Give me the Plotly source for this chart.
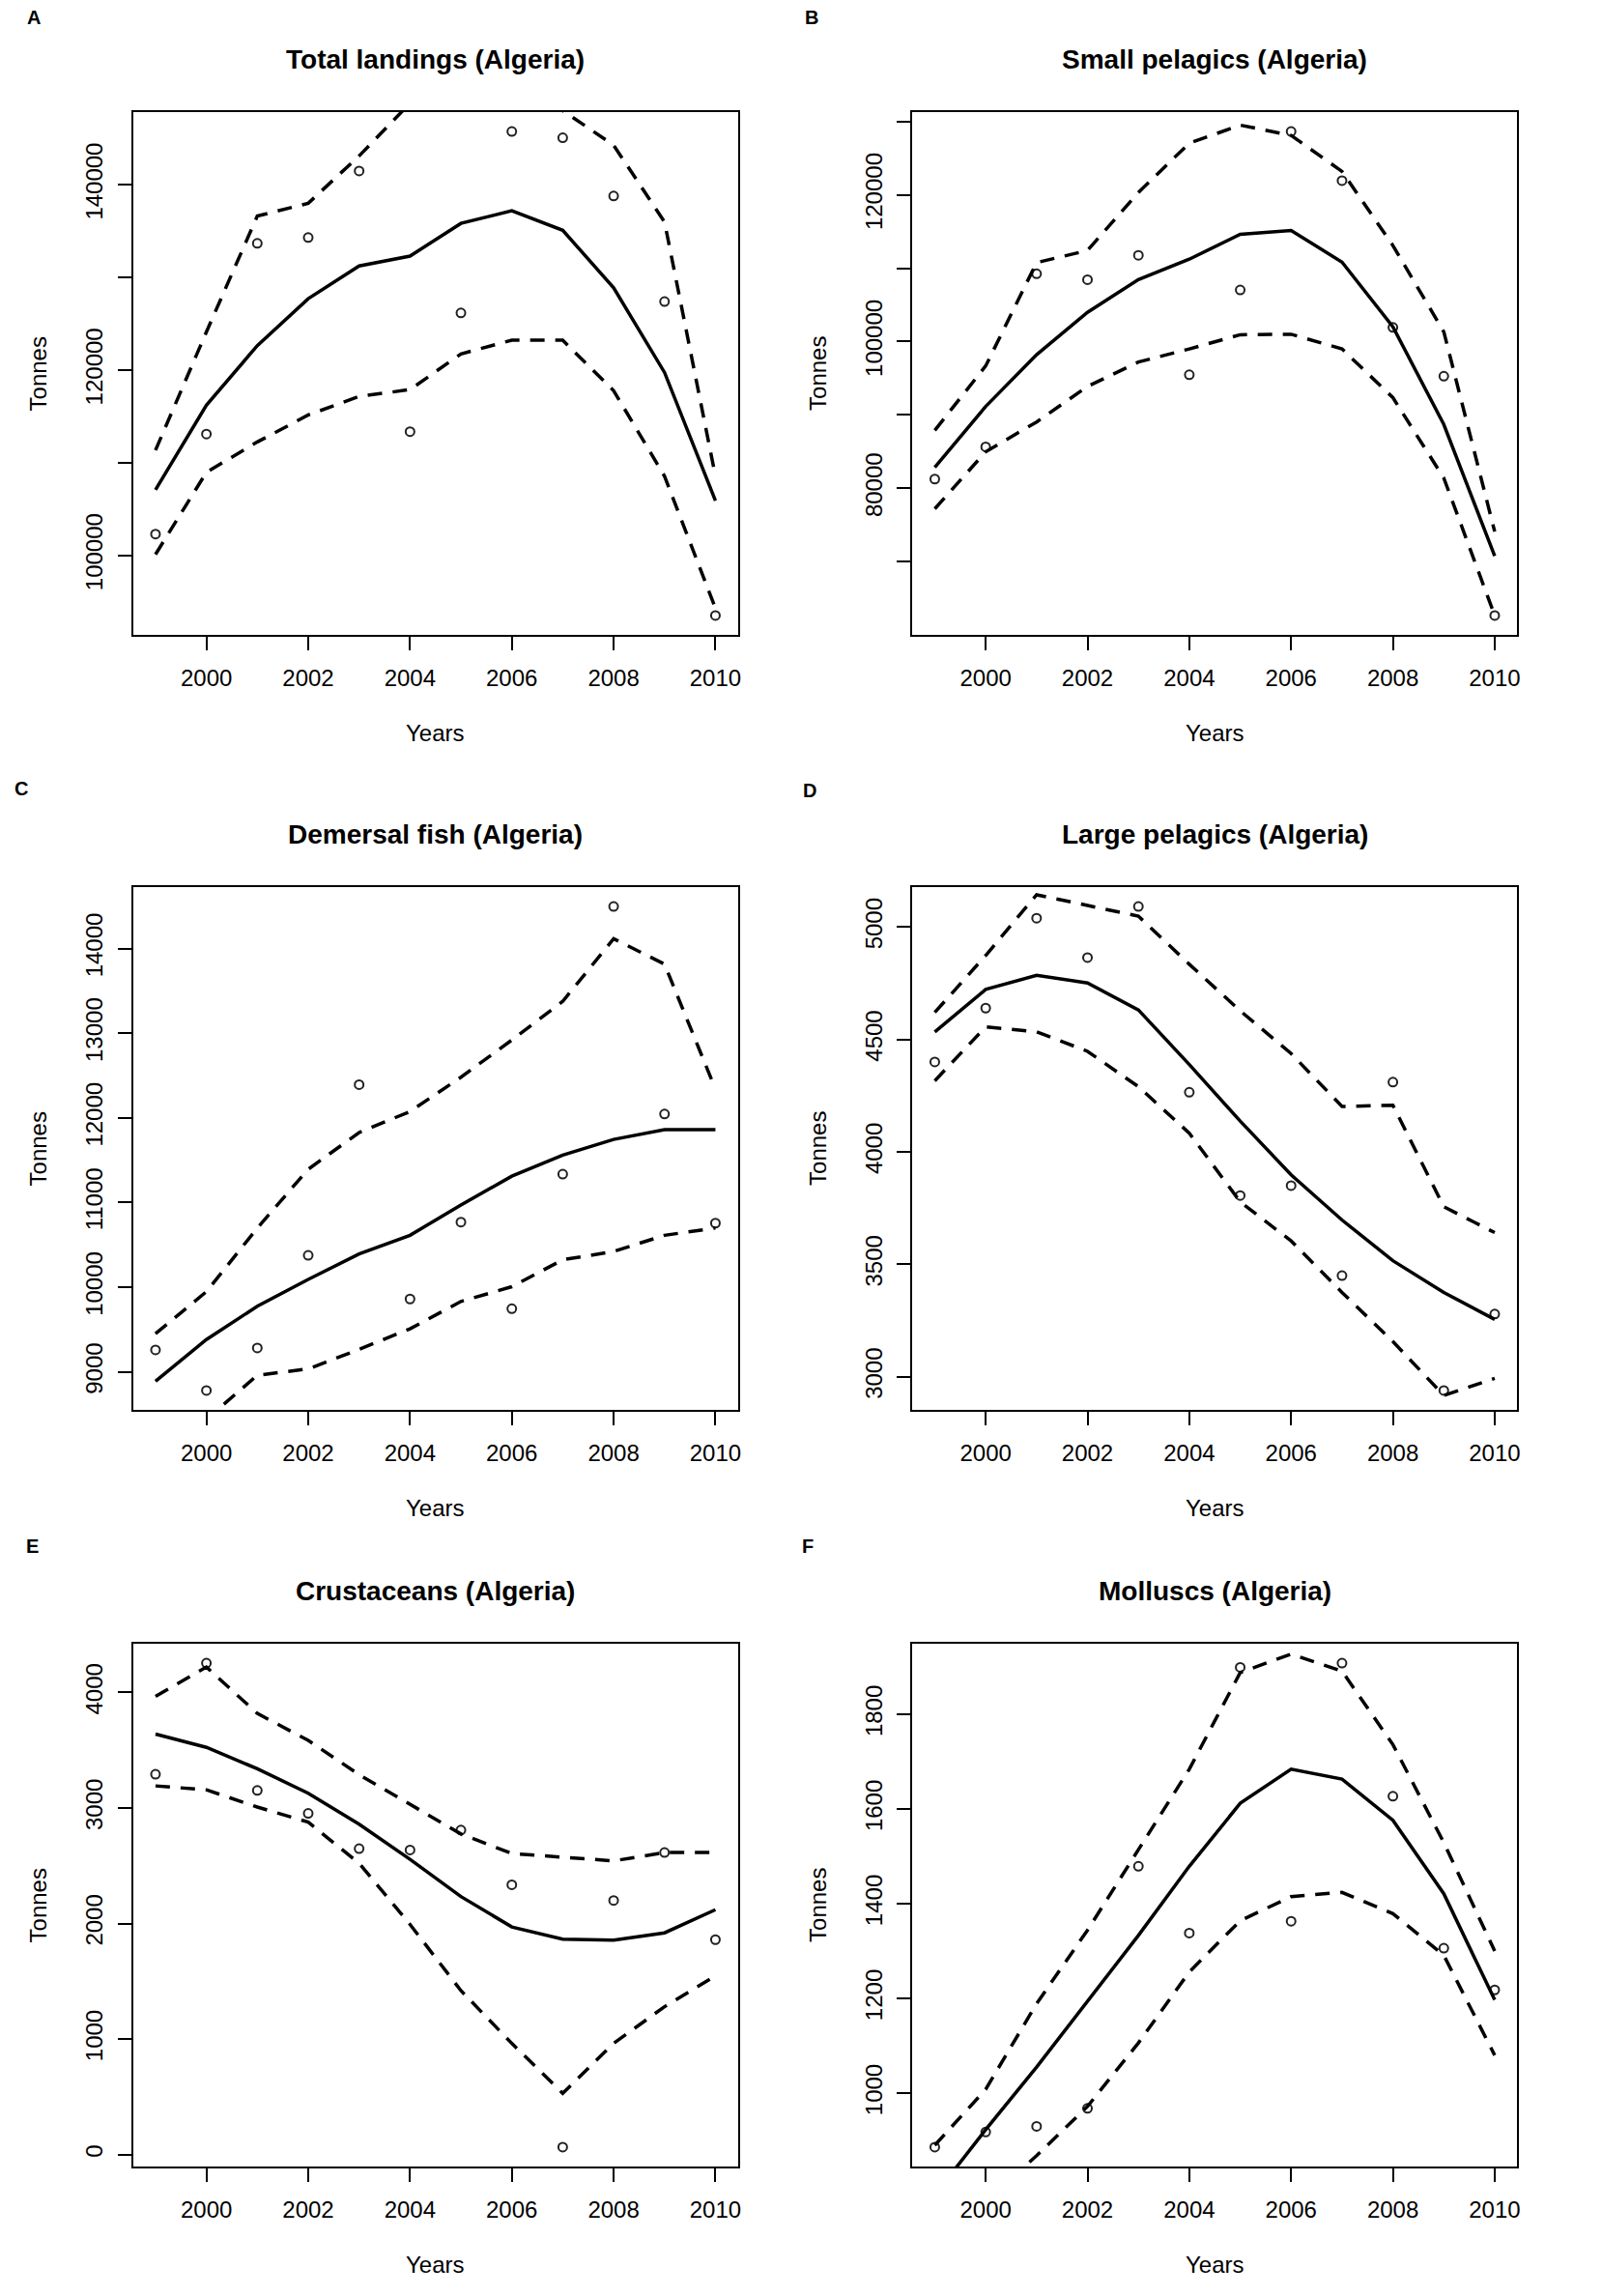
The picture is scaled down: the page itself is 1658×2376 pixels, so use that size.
import plotly.graph_objects as go

years = list(range(1999, 2011))

# observed landings (circles), fitted trend (solid), upper / lower bands (dashed)
total_obs = [102300, 113090, 133670, 134300, 141480, 113350, 126170, 145750, 145070, 138790, 127390, 93510]
total_fit = [107070, 116200, 122640, 127700, 131240, 132300, 135830, 137200, 135090, 128870, 119740, 105910]
total_upr = [111350, 124120, 136620, 138000, 143110, 148800, 150500, 151500, 148000, 144270, 135990, 108550]
total_lwr = [100100, 108970, 112240, 115150, 117150, 117890, 121740, 123220, 123220, 117780, 108550, 94300]

small_obs = [81260, 85650, 109240, 108440, 111760, 95480, 107040, 128640, 121930, 101930, 95280, 62660]
small_fit = [82860, 91160, 98200, 103990, 108440, 111230, 114620, 115150, 110830, 102000, 88700, 70760]
small_upr = [87900, 96680, 110760, 112420, 120330, 127040, 129500, 128110, 123190, 113090, 101330, 74090]
small_lwr = [77210, 84980, 89040, 93890, 97210, 99000, 100930, 101000, 99000, 92360, 81400, 62660]

demersal_obs = [9260, 8780, 9283, 10376, 12393, 9861, 10769, 9746, 11335, 14497, 12046, 10757]
demersal_fit = [8890, 9382, 9775, 10092, 10393, 10613, 10971, 11312, 11561, 11746, 11861, 11861]
demersal_upr = [9451, 9948, 10699, 11393, 11827, 12075, 12480, 12919, 13376, 14116, 13815, 12341]
demersal_lwr = [8300, 8440, 8960, 9035, 9266, 9509, 9832, 10006, 10324, 10422, 10613, 10699]

large_obs = [4400, 4639, 5039, 4864, 5091, 4265, 3806, 3850, 3450, 4310, 2939, 3279]
large_fit = [4533, 4722, 4785, 4751, 4631, 4388, 4137, 3898, 3697, 3516, 3375, 3255]
large_upr = [4620, 4873, 5143, 5095, 5048, 4834, 4627, 4437, 4202, 4207, 3756, 3641]
large_lwr = [4316, 4556, 4534, 4447, 4290, 4083, 3778, 3604, 3375, 3157, 2917, 2993]

crust_obs = [3292, 4254, 3152, 2953, 2648, 2636, 2809, 2335, 64, 2199, 2614, 1860]
crust_fit = [3640, 3525, 3339, 3127, 2860, 2555, 2233, 1970, 1864, 1856, 1919, 2119]
crust_upr = [3966, 4220, 3818, 3585, 3288, 3030, 2775, 2606, 2572, 2542, 2614, 2614]
crust_lwr = [3191, 3157, 3008, 2877, 2521, 1992, 1419, 962, 530, 962, 1280, 1547]

mollusc_obs = [886, 918, 930, 968, 1479, 1338, 1899, 1363, 1908, 1627, 1306, 1218]
mollusc_fit = [785, 923, 1055, 1194, 1333, 1479, 1612, 1684, 1663, 1576, 1421, 1197]
mollusc_upr = [890, 1008, 1189, 1344, 1514, 1684, 1888, 1927, 1891, 1736, 1529, 1300]
mollusc_lwr = [680, 770, 868, 972, 1106, 1256, 1364, 1415, 1424, 1379, 1291, 1080]

panels = [
    ("A", "Total landings (Algeria)", total_obs, total_fit, total_upr, total_lwr, 10000, 20000),
    ("B", "Small pelagics (Algeria)", small_obs, small_fit, small_upr, small_lwr, 10000, 20000),
    ("C", "Demersal fish (Algeria)", demersal_obs, demersal_fit, demersal_upr, demersal_lwr, 1000, 1000),
    ("D", "Large pelagics (Algeria)", large_obs, large_fit, large_upr, large_lwr, 500, 500),
    ("E", "Crustaceans (Algeria)", crust_obs, crust_fit, crust_upr, crust_lwr, 1000, 1000),
    ("F", "Molluscs (Algeria)", mollusc_obs, mollusc_fit, mollusc_upr, mollusc_lwr, 200, 200),
]

# page geometry (pixels of the final page, body margin of 8px)
W, H, OFF = 1642, 2360, 8
col_left = [138, 946]
row_top = [116, 918, 1701]
box_w, box_h = 627, 541
letter_pos = [(35, 18), (842, 18), (22, 816), (840, 818), (34, 1600), (838, 1600)]
FONT = "Liberation Sans, Arial, sans-serif"


def px_x(X):
    return (X - OFF) / W


def px_y(Y):
    return 1 - (Y - OFF) / H


fig = go.Figure()
annotations = []

for i, (letter, title, obs, fit, upr, lwr, step, label_step) in enumerate(panels):
    r, c = divmod(i, 2)
    n = i + 1
    xa = "x" if n == 1 else "x%d" % n
    ya = "y" if n == 1 else "y%d" % n

    fig.add_trace(go.Scatter(x=years, y=obs, mode="markers", xaxis=xa, yaxis=ya,
                             marker=dict(symbol="circle-open", size=9, color="#222",
                                         line=dict(width=2, color="#222"))))
    fig.add_trace(go.Scatter(x=years, y=fit, mode="lines", xaxis=xa, yaxis=ya,
                             line=dict(color="black", width=3.5)))
    for band in (upr, lwr):
        fig.add_trace(go.Scatter(x=years, y=band, mode="lines", xaxis=xa, yaxis=ya,
                                 line=dict(color="black", width=3.5, dash="15px,11px")))

    # R-style 4% padding around the observed values
    lo, hi = min(obs), max(obs)
    pad = 0.04 * (hi - lo)
    yr = [lo - pad, hi + pad]
    first = int(yr[0] // step + 1) * step
    tv = list(range(first, int(yr[1]) + 1, step))
    tt = [f"{v}" if v % label_step == 0 else "" for v in tv]

    x0, y0 = col_left[c], row_top[r]
    axis_common = dict(showgrid=False, zeroline=False, showline=True, mirror=True,
                       linecolor="black", linewidth=2, ticks="outside", ticklen=14,
                       tickwidth=2, tickcolor="black",
                       tickfont=dict(family=FONT, size=24, color="black"))
    fig.update_layout({
        ("xaxis" if n == 1 else "xaxis%d" % n): dict(
            axis_common, domain=[px_x(x0), px_x(x0 + box_w)], anchor=ya,
            range=[1999 - 0.44, 2010 + 0.44], tickvals=list(range(2000, 2011, 2)),
            ticklabelstandoff=8),
        ("yaxis" if n == 1 else "yaxis%d" % n): dict(
            axis_common, domain=[px_y(y0 + box_h), px_y(y0)], anchor=xa,
            range=yr, tickvals=tv, ticktext=tt, tickangle=-90, ticklabelstandoff=6),
    })

    cx = x0 + box_w / 2
    annotations += [
        dict(text="<b>%s</b>" % title, x=px_x(cx), y=px_y(y0 - 55),
             font=dict(family=FONT, size=28, color="black")),
        dict(text="Years", x=px_x(cx), y=px_y(y0 + box_h + 101),
             font=dict(family=FONT, size=24, color="black")),
        dict(text="Tonnes", x=px_x(x0 - 98), y=px_y(y0 + box_h / 2), textangle=-90,
             font=dict(family=FONT, size=24, color="black")),
        dict(text="<b>%s</b>" % letter, x=px_x(letter_pos[i][0]), y=px_y(letter_pos[i][1]),
             font=dict(family=FONT, size=20, color="black")),
    ]

for a in annotations:
    a.update(xref="paper", yref="paper", showarrow=False, xanchor="center", yanchor="middle")

fig.update_layout(width=W, height=H, margin=dict(l=0, r=0, t=0, b=0),
                  paper_bgcolor="white", plot_bgcolor="white", showlegend=False,
                  annotations=annotations)

fig.write_html("out.html")
